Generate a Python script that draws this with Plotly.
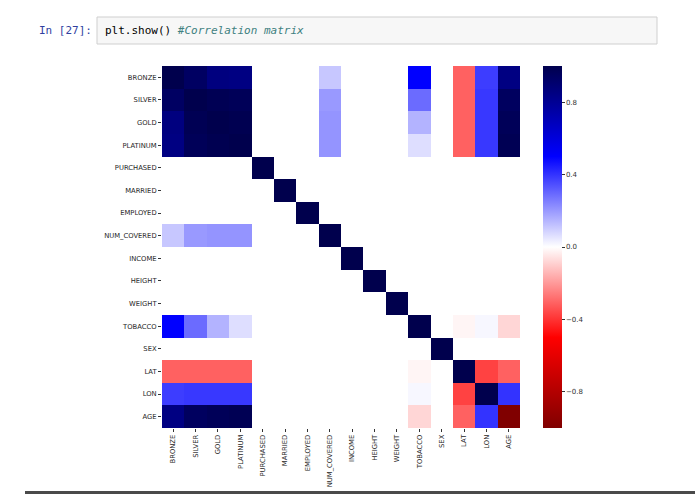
import plotly.graph_objects as go

labels = ["BRONZE", "SILVER", "GOLD", "PLATINUM", "PURCHASED", "MARRIED", "EMPLOYED",
          "NUM_COVERED", "INCOME", "HEIGHT", "WEIGHT", "TOBACCO", "SEX", "LAT", "LON", "AGE"]

# correlation matrix rows
r_bronze      = [1.00, 0.94, 0.86, 0.85, 0.00, 0.00, 0.00, 0.11, 0.00, 0.00, 0.00, 0.50, 0.00, -0.31, 0.38, 0.85]
r_silver      = [0.94, 1.00, 0.98, 0.97, 0.00, 0.00, 0.00, 0.20, 0.00, 0.00, 0.00, 0.29, 0.00, -0.31, 0.39, 0.95]
r_gold        = [0.86, 0.98, 1.00, 0.99, 0.00, 0.00, 0.00, 0.21, 0.00, 0.00, 0.00, 0.15, 0.00, -0.31, 0.39, 0.97]
r_platinum    = [0.85, 0.97, 0.99, 1.00, 0.00, 0.00, 0.00, 0.21, 0.00, 0.00, 0.00, 0.065, 0.00, -0.31, 0.39, 0.98]
r_purchased   = [0.00, 0.00, 0.00, 0.00, 1.00, 0.00, 0.00, 0.00, 0.00, 0.00, 0.00, 0.00, 0.00, 0.00, 0.00, 0.00]
r_married     = [0.00, 0.00, 0.00, 0.00, 0.00, 1.00, 0.00, 0.00, 0.00, 0.00, 0.00, 0.00, 0.00, 0.00, 0.00, 0.00]
r_employed    = [0.00, 0.00, 0.00, 0.00, 0.00, 0.00, 1.00, 0.00, 0.00, 0.00, 0.00, 0.00, 0.00, 0.00, 0.00, 0.00]
r_num_covered = [0.11, 0.20, 0.21, 0.21, 0.00, 0.00, 0.00, 1.00, 0.00, 0.00, 0.00, 0.00, 0.00, 0.00, 0.00, 0.00]
r_income      = [0.00, 0.00, 0.00, 0.00, 0.00, 0.00, 0.00, 0.00, 1.00, 0.00, 0.00, 0.00, 0.00, 0.00, 0.00, 0.00]
r_height      = [0.00, 0.00, 0.00, 0.00, 0.00, 0.00, 0.00, 0.00, 0.00, 1.00, 0.00, 0.00, 0.00, 0.00, 0.00, 0.00]
r_weight      = [0.00, 0.00, 0.00, 0.00, 0.00, 0.00, 0.00, 0.00, 0.00, 0.00, 1.00, 0.00, 0.00, 0.00, 0.00, 0.00]
r_tobacco     = [0.50, 0.29, 0.15, 0.065, 0.00, 0.00, 0.00, 0.00, 0.00, 0.00, 0.00, 1.00, 0.00, -0.02, 0.015, -0.08]
r_sex         = [0.00, 0.00, 0.00, 0.00, 0.00, 0.00, 0.00, 0.00, 0.00, 0.00, 0.00, 0.00, 1.00, 0.00, 0.00, 0.00]
r_lat         = [-0.31, -0.31, -0.31, -0.31, 0.00, 0.00, 0.00, 0.00, 0.00, 0.00, 0.00, -0.02, 0.00, 1.00, -0.37, -0.31]
r_lon         = [0.38, 0.39, 0.39, 0.39, 0.00, 0.00, 0.00, 0.00, 0.00, 0.00, 0.00, 0.015, 0.00, -0.37, 1.00, 0.40]
r_age         = [0.85, 0.95, 0.97, 0.98, 0.00, 0.00, 0.00, 0.00, 0.00, 0.00, 0.00, -0.08, 0.00, -0.31, 0.40, -1.00]

z = [r_bronze, r_silver, r_gold, r_platinum, r_purchased, r_married, r_employed, r_num_covered,
     r_income, r_height, r_weight, r_tobacco, r_sex, r_lat, r_lon, r_age]

cbar_vals = [-0.8, -0.4, 0.0, 0.4, 0.8]
cbar_text = ["\u22120.8", "\u22120.4", "0.0", "0.4", "0.8"]

seismic_r = [[0.0, "rgb(128,0,0)"], [0.25, "rgb(255,0,0)"], [0.5, "rgb(255,255,255)"],
             [0.75, "rgb(0,0,255)"], [1.0, "rgb(0,0,77)"]]

W, H = 695, 494
L, R, T, B = 162, 520, 66, 428
pw, ph = R - L, B - T


def px(x):
    return (x - L) / pw


def py(y):
    return (B - y) / ph


fig = go.Figure(go.Heatmap(
    z=z, x=labels, y=labels, zmin=-1, zmax=1, colorscale=seismic_r,
    colorbar=dict(
        x=px(543), xanchor="left", xref="paper", xpad=0, ypad=0, thickness=19, len=1,
        lenmode="fraction", y=0.5, yanchor="middle", outlinewidth=0, ticks="outside", ticklen=3,
        tickcolor="#333333", tickvals=cbar_vals, ticktext=cbar_text,
        tickfont=dict(family="DejaVu Sans", size=7, color="#333333"),
    ),
    hoverongaps=False,
))

tickfont = dict(family="DejaVu Sans", size=6.8, color="#262626")
fig.update_xaxes(tickangle=-90, ticks="outside", ticklen=3, tickcolor="#333333", automargin=False,
                 tickfont=tickfont, showgrid=False, zeroline=False, showline=False)
fig.update_yaxes(autorange="reversed", ticks="outside", ticklen=3, tickcolor="#333333",
                 automargin=False, tickfont=tickfont, showgrid=False, zeroline=False,
                 showline=False)

shapes = [
    dict(type="rect", xref="paper", yref="paper", x0=px(97), x1=px(657), y0=py(44), y1=py(17),
         fillcolor="#f7f7f7", line=dict(color="#cfcfcf", width=1), layer="below"),
    dict(type="rect", xref="paper", yref="paper", x0=px(25), x1=px(695), y0=py(494), y1=py(491),
         fillcolor="#4a4a4a", line=dict(width=0), layer="above"),
]

annotations = [
    dict(text="In [27]:", xref="paper", yref="paper", x=px(37), y=py(30), xanchor="left",
         yanchor="middle", showarrow=False,
         font=dict(family="DejaVu Sans Mono", size=11, color="#303F9F")),
    dict(text="plt.show() <i><span style='color:#408080'>#Correlation matrix</span></i>",
         xref="paper", yref="paper", x=px(103), y=py(30), xanchor="left", yanchor="middle",
         showarrow=False, font=dict(family="DejaVu Sans Mono", size=11, color="#000000")),
]

fig.update_layout(
    width=W, height=H, margin=dict(l=L, r=W - R, t=T, b=H - B, pad=0, autoexpand=False),
    paper_bgcolor="white", plot_bgcolor="white", shapes=shapes, annotations=annotations,
    showlegend=False,
)

fig.write_html("out.html")
